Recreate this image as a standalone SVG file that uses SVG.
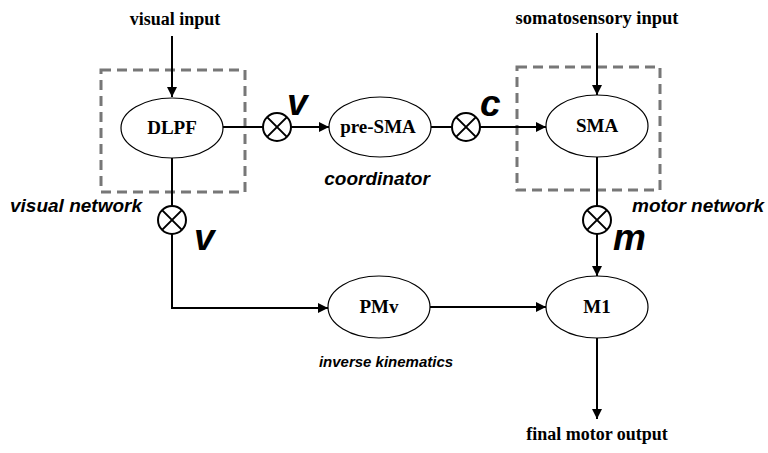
<svg xmlns="http://www.w3.org/2000/svg" width="768" height="453" viewBox="0 0 768 453">
<defs>
<marker id="ah" viewBox="0 0 10 10" refX="10" refY="5" markerWidth="10" markerHeight="10" markerUnits="userSpaceOnUse" orient="auto">
<path d="M0,0 L10,5 L0,10 z" fill="#000"/>
</marker>
<style>
.node{fill:#fff;stroke:#000;stroke-width:1.2}
.nl{font-family:"Liberation Serif",serif;font-weight:bold;font-size:19px;text-anchor:middle}
.il{font-family:"Liberation Serif",serif;font-weight:bold;font-size:18px;text-anchor:middle}
.it{font-family:"Liberation Sans",Arial,sans-serif;font-weight:bold;font-style:italic;font-size:19px}
.big{font-family:"Liberation Sans",Arial,sans-serif;font-weight:bold;font-style:italic;font-size:37px}
.box{fill:none;stroke:#777;stroke-width:3;stroke-dasharray:10 6}
.ln{fill:none;stroke:#000;stroke-width:2}
.arr{fill:none;stroke:#000;stroke-width:2;marker-end:url(#ah)}
.mul{fill:#fff;stroke:#000;stroke-width:2}
</style>
</defs>
<rect width="768" height="453" fill="#fff"/>

<g id="boxes">
<rect class="box" x="101" y="70" width="144" height="122"/>
<rect class="box" x="517" y="67" width="143" height="123"/>
</g>

<g id="connectors">
<line class="arr" x1="172" y1="36" x2="172" y2="97"/>
<line class="arr" x1="597" y1="33" x2="597" y2="95"/>
<line class="ln" x1="223" y1="127" x2="263" y2="127"/>
<line class="arr" x1="291" y1="127" x2="329" y2="127"/>
<line class="ln" x1="431" y1="127" x2="452" y2="127"/>
<line class="arr" x1="480" y1="127" x2="546" y2="127"/>
<line class="ln" x1="172" y1="158" x2="172" y2="206"/>
<polyline class="arr" points="172,234 172,308 328,308"/>
<line class="ln" x1="597" y1="157" x2="597" y2="206"/>
<line class="arr" x1="597" y1="234" x2="597" y2="276"/>
<line class="arr" x1="430" y1="307" x2="546" y2="307"/>
<line class="arr" x1="597" y1="338" x2="597" y2="419"/>
</g>

<g id="mult1"><circle class="mul" cx="277" cy="127" r="14"/><path class="ln" d="M267.1,117.1 L286.9,136.9 M286.9,117.1 L267.1,136.9"/></g>
<g id="mult2"><circle class="mul" cx="466" cy="127" r="14"/><path class="ln" d="M456.1,117.1 L475.9,136.9 M475.9,117.1 L456.1,136.9"/></g>
<g id="mult3"><circle class="mul" cx="172" cy="220" r="14"/><path class="ln" d="M162.1,210.1 L181.9,229.9 M181.9,210.1 L162.1,229.9"/></g>
<g id="mult4"><circle class="mul" cx="597" cy="220" r="14"/><path class="ln" d="M587.1,210.1 L606.9,229.9 M606.9,210.1 L587.1,229.9"/></g>

<g id="DLPF"><ellipse class="node" cx="172" cy="128" rx="51" ry="30"/><text class="nl" x="172" y="134">DLPF</text></g>
<g id="preSMA"><ellipse class="node" cx="380" cy="127" rx="51" ry="30"/><text class="nl" x="378" y="133">pre-SMA</text></g>
<g id="SMA"><ellipse class="node" cx="597" cy="126" rx="51" ry="31"/><text class="nl" x="597" y="132">SMA</text></g>
<g id="PMv"><ellipse class="node" cx="379" cy="307" rx="51" ry="31"/><text class="nl" x="379" y="313">PMv</text></g>
<g id="M1"><ellipse class="node" cx="597" cy="307" rx="51" ry="31"/><text class="nl" x="597" y="313">M1</text></g>

<g id="labels">
<text class="il" x="175" y="25">visual input</text>
<text class="il" x="597" y="24" style="font-size:18.5px">somatosensory input</text>
<text class="il" x="597" y="440">final motor output</text>
<text class="it" x="10" y="212">visual network</text>
<text class="it" x="632" y="212">motor network</text>
<text class="it" x="377" y="185" text-anchor="middle">coordinator</text>
<text class="it" x="386" y="367" text-anchor="middle" style="font-size:15px">inverse kinematics</text>
<text class="big" x="287" y="115">v</text>
<text class="big" x="194" y="250">v</text>
<text class="big" x="480" y="116">c</text>
<text class="big" x="613" y="250">m</text>
</g>
</svg>
